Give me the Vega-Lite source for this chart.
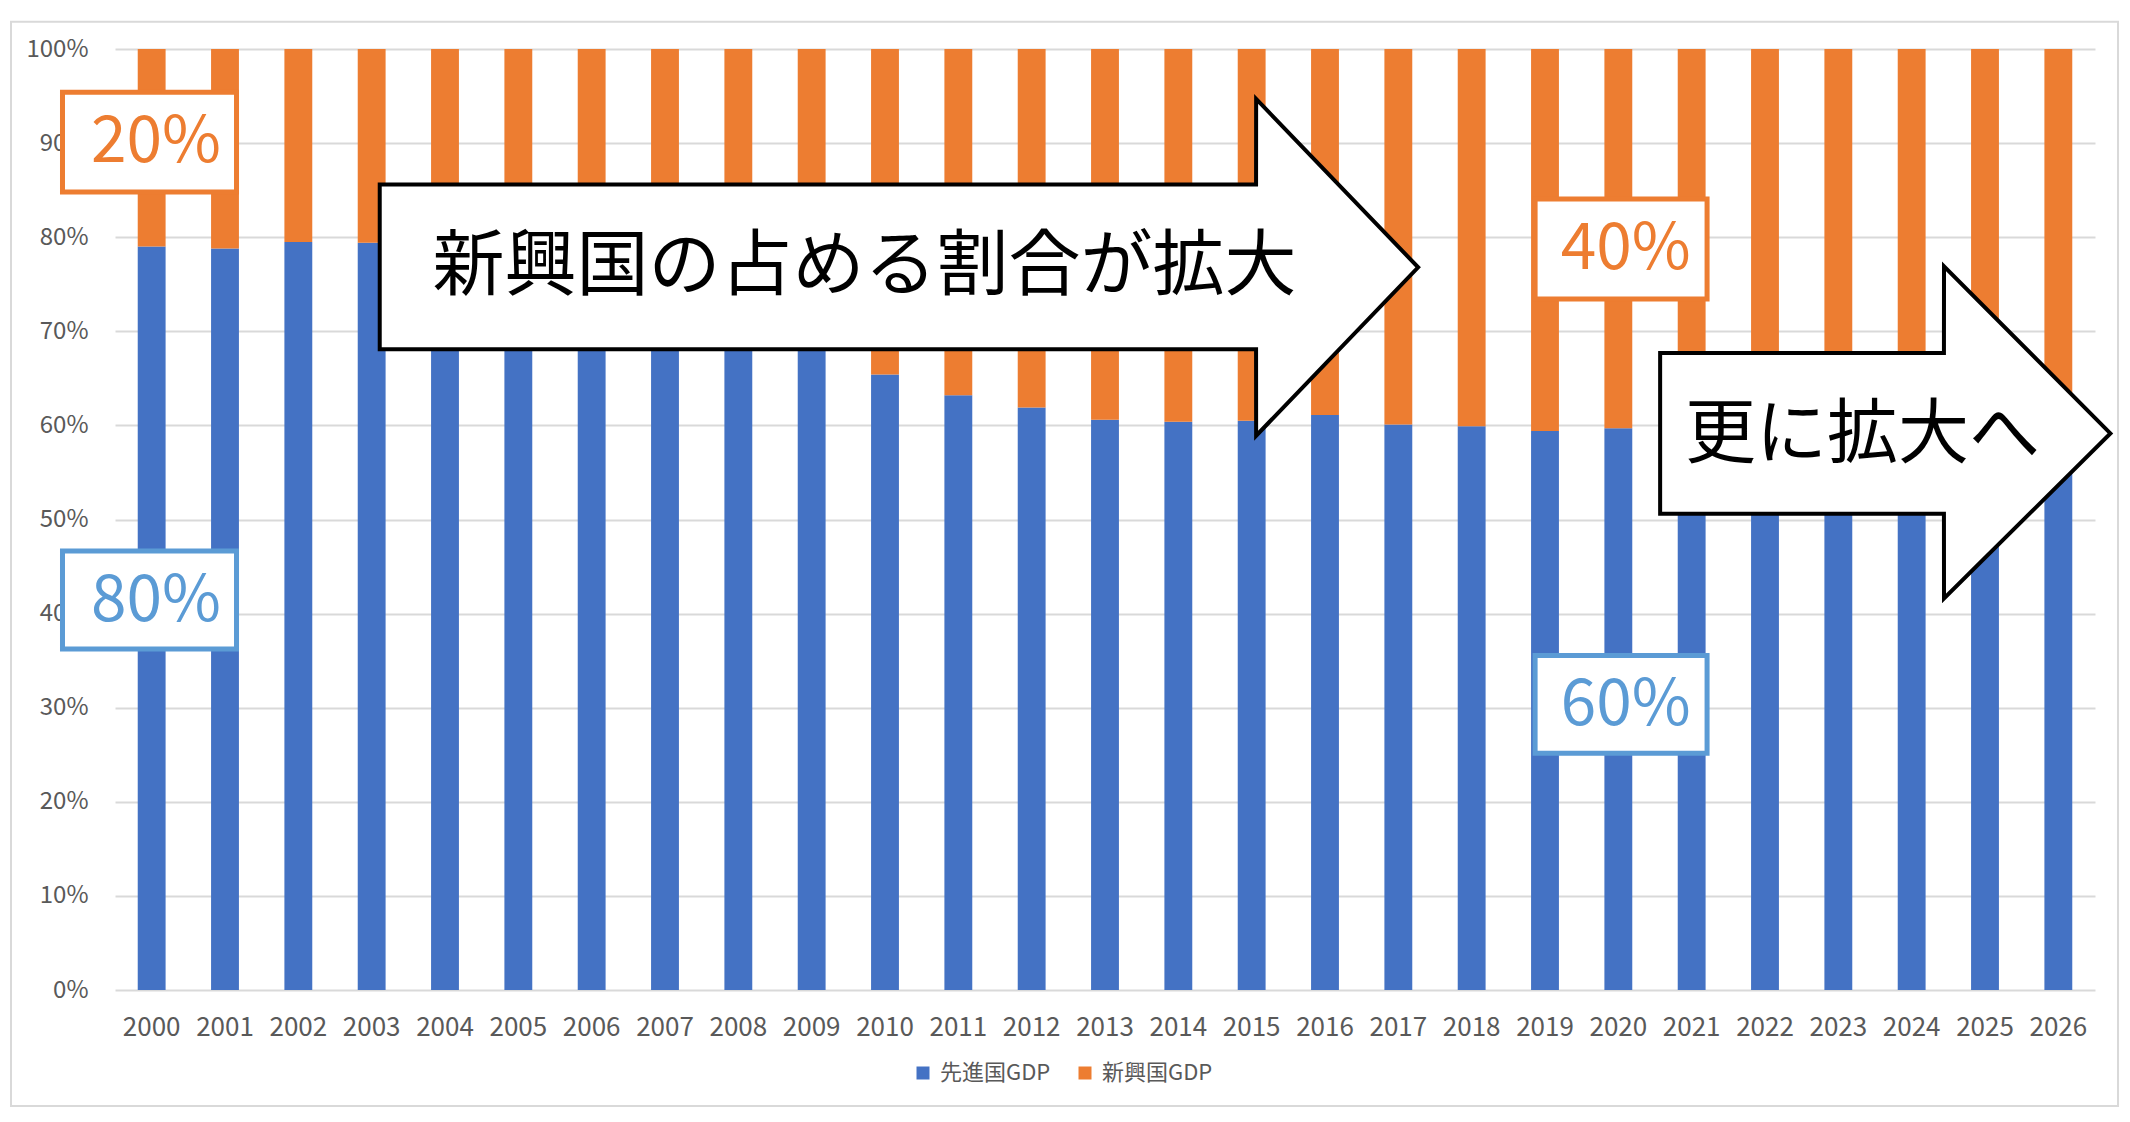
{
  "$schema": "https://vega.github.io/schema/vega-lite/v6.json",
  "width": 1980,
  "height": 941,
  "autosize": {"type": "none"},
  "padding": {"left": 115, "top": 49, "right": 35, "bottom": 132},
  "background": "white",
  "config": {"view": {"stroke": null}, "font": "Noto Sans CJK JP"},
  "datasets": {
    "gdp": [
      {"year": "2000", "series": "先進国GDP", "share": 79.0}, {"year": "2000", "series": "新興国GDP", "share": 21.0},
      {"year": "2001", "series": "先進国GDP", "share": 78.8}, {"year": "2001", "series": "新興国GDP", "share": 21.2},
      {"year": "2002", "series": "先進国GDP", "share": 79.5}, {"year": "2002", "series": "新興国GDP", "share": 20.5},
      {"year": "2003", "series": "先進国GDP", "share": 79.4}, {"year": "2003", "series": "新興国GDP", "share": 20.6},
      {"year": "2004", "series": "先進国GDP", "share": 78.2}, {"year": "2004", "series": "新興国GDP", "share": 21.8},
      {"year": "2005", "series": "先進国GDP", "share": 76.8}, {"year": "2005", "series": "新興国GDP", "share": 23.2},
      {"year": "2006", "series": "先進国GDP", "share": 75.3}, {"year": "2006", "series": "新興国GDP", "share": 24.7},
      {"year": "2007", "series": "先進国GDP", "share": 72.9}, {"year": "2007", "series": "新興国GDP", "share": 27.1},
      {"year": "2008", "series": "先進国GDP", "share": 69.8}, {"year": "2008", "series": "新興国GDP", "share": 30.2},
      {"year": "2009", "series": "先進国GDP", "share": 68.6}, {"year": "2009", "series": "新興国GDP", "share": 31.4},
      {"year": "2010", "series": "先進国GDP", "share": 65.4}, {"year": "2010", "series": "新興国GDP", "share": 34.6},
      {"year": "2011", "series": "先進国GDP", "share": 63.2}, {"year": "2011", "series": "新興国GDP", "share": 36.8},
      {"year": "2012", "series": "先進国GDP", "share": 61.9}, {"year": "2012", "series": "新興国GDP", "share": 38.1},
      {"year": "2013", "series": "先進国GDP", "share": 60.6}, {"year": "2013", "series": "新興国GDP", "share": 39.4},
      {"year": "2014", "series": "先進国GDP", "share": 60.4}, {"year": "2014", "series": "新興国GDP", "share": 39.6},
      {"year": "2015", "series": "先進国GDP", "share": 60.5}, {"year": "2015", "series": "新興国GDP", "share": 39.5},
      {"year": "2016", "series": "先進国GDP", "share": 61.1}, {"year": "2016", "series": "新興国GDP", "share": 38.9},
      {"year": "2017", "series": "先進国GDP", "share": 60.1}, {"year": "2017", "series": "新興国GDP", "share": 39.9},
      {"year": "2018", "series": "先進国GDP", "share": 59.9}, {"year": "2018", "series": "新興国GDP", "share": 40.1},
      {"year": "2019", "series": "先進国GDP", "share": 59.4}, {"year": "2019", "series": "新興国GDP", "share": 40.6},
      {"year": "2020", "series": "先進国GDP", "share": 59.7}, {"year": "2020", "series": "新興国GDP", "share": 40.3},
      {"year": "2021", "series": "先進国GDP", "share": 59.0}, {"year": "2021", "series": "新興国GDP", "share": 41.0},
      {"year": "2022", "series": "先進国GDP", "share": 58.0}, {"year": "2022", "series": "新興国GDP", "share": 42.0},
      {"year": "2023", "series": "先進国GDP", "share": 57.8}, {"year": "2023", "series": "新興国GDP", "share": 42.2},
      {"year": "2024", "series": "先進国GDP", "share": 57.3}, {"year": "2024", "series": "新興国GDP", "share": 42.7},
      {"year": "2025", "series": "先進国GDP", "share": 56.8}, {"year": "2025", "series": "新興国GDP", "share": 43.2},
      {"year": "2026", "series": "先進国GDP", "share": 56.3}, {"year": "2026", "series": "新興国GDP", "share": 43.7}
    ],
    "arrow1": [
      {"x": 2003.11, "lo": 0.681, "hi": 0.856},
      {"x": 2015.06, "lo": 0.681, "hi": 0.856},
      {"x": 2015.061, "lo": 0.589, "hi": 0.947},
      {"x": 2017.27, "lo": 0.768, "hi": 0.768}
    ],
    "arrow2": [
      {"x": 2020.57, "lo": 0.506, "hi": 0.677},
      {"x": 2024.44, "lo": 0.506, "hi": 0.677},
      {"x": 2024.441, "lo": 0.416, "hi": 0.769},
      {"x": 2026.71, "lo": 0.5915, "hi": 0.5915}
    ]
  },
  "layer": [
    {
      "data": {"name": "gdp"},
      "mark": {"type": "bar"},
      "encoding": {
        "x": {
          "field": "year", "type": "ordinal",
          "scale": {"paddingInner": 0.62, "paddingOuter": 0.31},
          "axis": {"title": null, "labelAngle": 0, "ticks": false, "tickSize": 0, "domain": false, "grid": false, "labelFontSize": 26, "labelColor": "#595959", "labelPadding": 24, "labelFont": "Noto Sans CJK JP"}
        },
        "y": {
          "field": "share", "type": "quantitative", "stack": "normalize",
          "scale": {"domain": [0, 1], "nice": false},
          "axis": {"title": null, "values": [0, 0.1, 0.2, 0.3, 0.4, 0.5, 0.6, 0.7, 0.8, 0.9, 1], "format": ".0%", "ticks": false, "domain": false, "labelFontSize": 24, "labelColor": "#595959", "labelPadding": 27, "gridColor": "#D9D9D9", "gridWidth": 2, "labelFont": "Noto Sans CJK JP"}
        },
        "color": {
          "field": "series", "type": "nominal",
          "scale": {"domain": ["先進国GDP", "新興国GDP"], "range": ["#4472C4", "#ED7D31"]},
          "legend": {"title": null, "orient": "none", "direction": "horizontal", "legendX": 797, "legendY": 1013, "symbolType": "square", "symbolSize": 169, "symbolStrokeWidth": 0, "labelFontSize": 22, "labelColor": "#595959", "labelFont": "Noto Sans CJK JP", "columnPadding": 23, "labelOffset": 6}
        },
        "order": {"field": "series", "sort": "ascending"}
      }
    },
    {
      "layer": [
        {
          "data": {"values": [{}]},
          "mark": {"type": "rect", "fill": null, "stroke": "#D9D9D9", "strokeWidth": 2},
          "encoding": {
            "x": {"datum": 1998.082, "type": "quantitative", "scale": {"domain": [1999.5, 2026.5], "nice": false, "zero": false}, "axis": null},
            "x2": {"datum": 2026.814},
            "y": {"datum": 1.029, "type": "quantitative", "scale": {"domain": [0, 1], "nice": false}},
            "y2": {"datum": -0.1233}
          }
        },
        {
          "data": {"values": [{}]},
          "mark": {"type": "rect", "fill": "white", "stroke": "#ED7D31", "strokeWidth": 5},
          "encoding": {
            "x": {"datum": 1998.784, "type": "quantitative", "scale": {"domain": [1999.5, 2026.5], "nice": false, "zero": false}, "axis": null},
            "x2": {"datum": 2001.157},
            "y": {"datum": 0.954, "type": "quantitative", "scale": {"domain": [0, 1], "nice": false}},
            "y2": {"datum": 0.848}
          }
        },
        {
          "data": {"values": [{}]},
          "mark": {"type": "text", "text": "20%", "fontSize": 64, "color": "#ED7D31", "align": "center", "baseline": "middle", "font": "Noto Sans CJK JP"},
          "encoding": {
            "x": {"datum": 2000.06, "type": "quantitative", "scale": {"domain": [1999.5, 2026.5], "nice": false, "zero": false}, "axis": null},
            "y": {"datum": 0.900, "type": "quantitative", "scale": {"domain": [0, 1], "nice": false}}
          }
        },
        {
          "data": {"values": [{}]},
          "mark": {"type": "rect", "fill": "white", "stroke": "#5B9BD5", "strokeWidth": 5},
          "encoding": {
            "x": {"datum": 1998.784, "type": "quantitative", "scale": {"domain": [1999.5, 2026.5], "nice": false, "zero": false}, "axis": null},
            "x2": {"datum": 2001.157},
            "y": {"datum": 0.4665, "type": "quantitative", "scale": {"domain": [0, 1], "nice": false}},
            "y2": {"datum": 0.3624}
          }
        },
        {
          "data": {"values": [{}]},
          "mark": {"type": "text", "text": "80%", "fontSize": 64, "color": "#5B9BD5", "align": "center", "baseline": "middle", "font": "Noto Sans CJK JP"},
          "encoding": {
            "x": {"datum": 2000.06, "type": "quantitative", "scale": {"domain": [1999.5, 2026.5], "nice": false, "zero": false}, "axis": null},
            "y": {"datum": 0.4127, "type": "quantitative", "scale": {"domain": [0, 1], "nice": false}}
          }
        },
        {
          "data": {"values": [{}]},
          "mark": {"type": "rect", "fill": "white", "stroke": "#ED7D31", "strokeWidth": 5},
          "encoding": {
            "x": {"datum": 2018.865, "type": "quantitative", "scale": {"domain": [1999.5, 2026.5], "nice": false, "zero": false}, "axis": null},
            "x2": {"datum": 2021.21},
            "y": {"datum": 0.8406, "type": "quantitative", "scale": {"domain": [0, 1], "nice": false}},
            "y2": {"datum": 0.7343}
          }
        },
        {
          "data": {"values": [{}]},
          "mark": {"type": "text", "text": "40%", "fontSize": 64, "color": "#ED7D31", "align": "center", "baseline": "middle", "font": "Noto Sans CJK JP"},
          "encoding": {
            "x": {"datum": 2020.1, "type": "quantitative", "scale": {"domain": [1999.5, 2026.5], "nice": false, "zero": false}, "axis": null},
            "y": {"datum": 0.7864, "type": "quantitative", "scale": {"domain": [0, 1], "nice": false}}
          }
        },
        {
          "data": {"values": [{}]},
          "mark": {"type": "rect", "fill": "white", "stroke": "#5B9BD5", "strokeWidth": 5},
          "encoding": {
            "x": {"datum": 2018.865, "type": "quantitative", "scale": {"domain": [1999.5, 2026.5], "nice": false, "zero": false}, "axis": null},
            "x2": {"datum": 2021.21},
            "y": {"datum": 0.3555, "type": "quantitative", "scale": {"domain": [0, 1], "nice": false}},
            "y2": {"datum": 0.2515}
          }
        },
        {
          "data": {"values": [{}]},
          "mark": {"type": "text", "text": "60%", "fontSize": 64, "color": "#5B9BD5", "align": "center", "baseline": "middle", "font": "Noto Sans CJK JP"},
          "encoding": {
            "x": {"datum": 2020.1, "type": "quantitative", "scale": {"domain": [1999.5, 2026.5], "nice": false, "zero": false}, "axis": null},
            "y": {"datum": 0.3022, "type": "quantitative", "scale": {"domain": [0, 1], "nice": false}}
          }
        },
        {
          "data": {"name": "arrow1"},
          "mark": {"type": "area", "fill": "white", "stroke": "black", "strokeWidth": 4, "opacity": 1, "fillOpacity": 1, "strokeJoin": "miter"},
          "encoding": {
            "x": {"field": "x", "type": "quantitative", "scale": {"domain": [1999.5, 2026.5], "nice": false, "zero": false}, "axis": null},
            "y": {"field": "hi", "type": "quantitative", "scale": {"domain": [0, 1], "nice": false}},
            "y2": {"field": "lo"}
          }
        },
        {
          "data": {"values": [{}]},
          "mark": {"type": "text", "text": "新興国の占める割合が拡大", "fontSize": 72, "color": "black", "align": "center", "baseline": "middle", "font": "Noto Sans CJK JP"},
          "encoding": {
            "x": {"datum": 2009.72, "type": "quantitative", "scale": {"domain": [1999.5, 2026.5], "nice": false, "zero": false}, "axis": null},
            "y": {"datum": 0.768, "type": "quantitative", "scale": {"domain": [0, 1], "nice": false}}
          }
        },
        {
          "data": {"name": "arrow2"},
          "mark": {"type": "area", "fill": "white", "stroke": "black", "strokeWidth": 4, "opacity": 1, "fillOpacity": 1, "strokeJoin": "miter"},
          "encoding": {
            "x": {"field": "x", "type": "quantitative", "scale": {"domain": [1999.5, 2026.5], "nice": false, "zero": false}, "axis": null},
            "y": {"field": "hi", "type": "quantitative", "scale": {"domain": [0, 1], "nice": false}},
            "y2": {"field": "lo"}
          }
        },
        {
          "data": {"values": [{}]},
          "mark": {"type": "text", "text": "更に拡大へ", "fontSize": 71, "color": "black", "align": "center", "baseline": "middle", "font": "Noto Sans CJK JP"},
          "encoding": {
            "x": {"datum": 2023.33, "type": "quantitative", "scale": {"domain": [1999.5, 2026.5], "nice": false, "zero": false}, "axis": null},
            "y": {"datum": 0.589, "type": "quantitative", "scale": {"domain": [0, 1], "nice": false}}
          }
        }
      ]
    }
  ],
  "resolve": {"scale": {"x": "independent"}}
}
